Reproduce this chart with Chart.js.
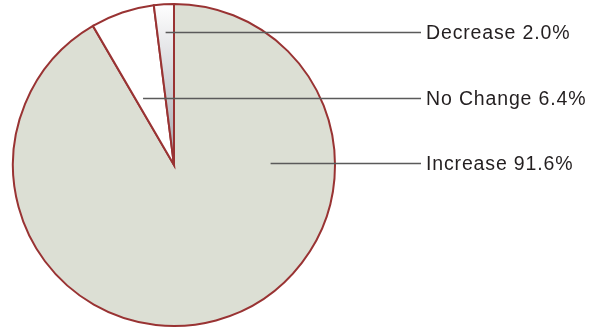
<!DOCTYPE html>
<html>
<head>
<meta charset="utf-8">
<script src="https://cdn.jsdelivr.net/npm/chart.js@4.4.1/dist/chart.umd.min.js"></script>
<style>
  html, body { margin: 0; padding: 0; background: #ffffff; }
  #wrap { width: 595px; height: 329px; position: relative; }
</style>
</head>
<body>
<div id="wrap"><canvas id="pieChart" width="595" height="329"></canvas></div>
<script>
// 데이터 (clockwise from 12 o'clock)
const categories = ['Increase', 'No Change', 'Decrease'];
const shares = [91.6, 6.4, 2.0];
const labelTexts = ['Increase 91.6%', 'No Change 6.4%', 'Decrease 2.0%'];

// where each leader line starts: fraction through the slice angle, fraction of radius
const leaderAnchors = [[0.27, 0.6], [0.24, 0.46], [0.5, 0.83]];

const sliceFill = ['#dcdfd4', '#ffffff', null];

// leader lines + labels on the right
const leaderPlugin = {
    id: 'leaders',
    afterDatasetsDraw(chart) {
        const ctx = chart.ctx;
        const arcs = chart.getDatasetMeta(0).data;
        ctx.save();
        ctx.strokeStyle = '#5a5a5a';
        ctx.lineWidth = 1.6;
        ctx.fillStyle = '#231f20';
        ctx.font = '19.5px "Liberation Sans", Arial, sans-serif';
        ctx.letterSpacing = '0.85px';
        ctx.textBaseline = 'middle';
        arcs.forEach((arc, i) => {
            const p = arc.getProps(['x', 'y', 'startAngle', 'endAngle', 'outerRadius'], true);
            const a = p.startAngle + (p.endAngle - p.startAngle) * leaderAnchors[i][0];
            const r = p.outerRadius * leaderAnchors[i][1];
            const x0 = p.x + Math.cos(a) * r;
            const y0 = Math.round(p.y + Math.sin(a) * r) + 0.5;
            ctx.beginPath();
            ctx.moveTo(x0, y0);
            ctx.lineTo(421, y0);
            ctx.stroke();
            ctx.fillText(labelTexts[i], 426, y0 + 1);
        });
        ctx.restore();
    }
};

const ctx = document.getElementById('pieChart').getContext('2d');
new Chart(ctx, {
    type: 'pie',
    data: {
        labels: categories,
        datasets: [{
            data: shares,
            backgroundColor: (c) => {
                if (sliceFill[c.dataIndex]) return sliceFill[c.dataIndex];
                const area = c.chart.chartArea;
                if (!area) return '#c0c3c8';
                const g = c.chart.ctx.createLinearGradient(0, area.top, 0, (area.top + area.bottom) / 2);
                g.addColorStop(0, '#ffffff');
                g.addColorStop(1, '#a3a6ad');
                return g;
            },
            borderColor: '#993333',
            borderWidth: 2,
            borderJoinStyle: 'miter'
        }]
    },
    options: {
        responsive: false,
        animation: false,
        layout: { padding: { left: 12, top: 3, right: 259, bottom: 2 } },
        plugins: {
            legend: { display: false },
            tooltip: { enabled: false }
        }
    },
    plugins: [leaderPlugin]
});
</script>
</body>
</html>
